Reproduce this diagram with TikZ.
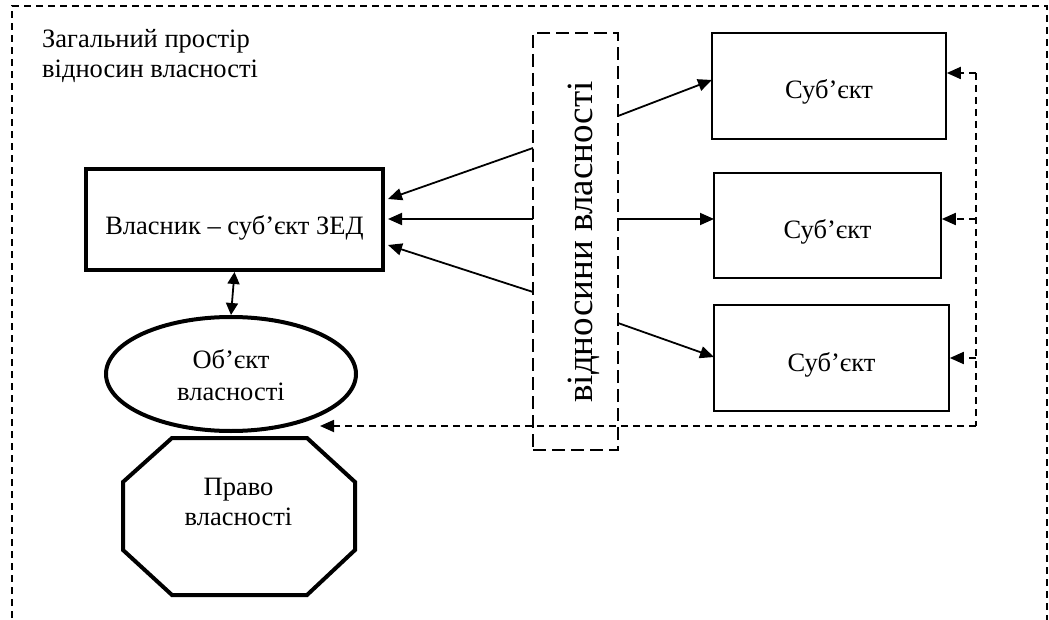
\documentclass[tikz,border=0pt]{standalone}
\usepackage{fontspec}
\setmainfont{Liberation Serif}
\usetikzlibrary{arrows.meta,shapes.geometric}
\tikzset{
  txt/.style={font=\fontsize{26.5}{30}\selectfont},
  thinbox/.style={draw,line width=1.6pt,rectangle,inner sep=0pt,txt},
  thickln/.style={line width=4pt},
  conn/.style={line width=1.8pt,-{Triangle[length=14pt,width=12pt]}},
  dconn/.style={line width=1.8pt,dash pattern=on 7pt off 5pt,-{Triangle[length=14pt,width=12pt]}},
}
\newcommand{\lowered}[2]{\raisebox{-#1pt}[0pt][0pt]{#2}}
\begin{document}
\begin{tikzpicture}[x=1pt,y=-1pt]
\useasboundingbox (0,0) rectangle (1049,620);
% outer frame
\draw[line width=1.6pt,dash pattern=on 7pt off 5pt] (12,630) -- (12,6) -- (1047,6) -- (1047,630);
\node[txt,anchor=base west,align=left,inner sep=0pt] (title) at (42,78) {Загальний простір\\відносин власності};
% relation label box
\node[draw,line width=1.6pt,dash pattern=on 13pt off 6pt,minimum width=85pt,minimum height=417pt,inner sep=0pt] (lab) at (575.5,241.5) {};
\node[rotate=90,anchor=base,font=\fontsize{37}{40}\selectfont,inner sep=0pt] (labtxt) at (592,242) {відносини власності};
% subjects
\node[thinbox,minimum width=234pt,minimum height=106pt] (s1) at (829,86) {\lowered{13}{Суб’єкт}};
\node[thinbox,minimum width=227pt,minimum height=105pt] (s2) at (827.5,225.5) {\lowered{13}{Суб’єкт}};
\node[thinbox,minimum width=235pt,minimum height=106pt] (s3) at (831.5,358) {\lowered{13}{Суб’єкт}};
% owner
\node[draw,thickln,rectangle,inner sep=0pt,txt,minimum width=297pt,minimum height=101pt] (own) at (234.5,219.5) {\lowered{15.5}{Власник – суб’єкт ЗЕД}};
% object
\node[draw,thickln,ellipse,inner sep=0pt,font=\fontsize{26.5}{32}\selectfont,minimum width=250pt,minimum height=114pt] (obj) at (231,374) {\lowered{26}{\begin{tabular}[b]{@{}c@{}}Об’єкт\\власності\end{tabular}}};
% octagon
\draw[thickln,line join=miter] (172,438) -- (307,438) -- (355,482) -- (355,550) -- (307,595) -- (172,595) -- (123,550) -- (123,482) -- cycle;
\node[txt,align=center,inner sep=0pt,anchor=base] (pravo) at (238.5,525) {Право\\власності};
% coordinates on label box
\coordinate (l1) at (533,148);
\coordinate (l2) at (533,219);
\coordinate (l3) at (533,292);
\coordinate (r1) at (618,116);
\coordinate (r2) at (618,219);
\coordinate (r3) at (618,323);
\coordinate (o1) at (388,199);
\coordinate (o2) at (388,219);
\coordinate (o3) at (388,245);
\coordinate (t1) at (712,80);
\coordinate (t2) at (714,219);
\coordinate (t3) at (714,357);
\draw[conn] (l1) -- (o1);
\draw[conn] (l2) -- (o2);
\draw[conn] (l3) -- (o3);
\draw[conn] (r1) -- (t1);
\draw[conn] (r2) -- (t2);
\draw[conn] (r3) -- (t3);
% owner <-> object
\draw[line width=1.8pt,{Triangle[length=12pt,width=12pt]}-{Triangle[length=12pt,width=12pt]}] (own.south) -- (obj.north);
% feedback dashed
\coordinate (f1) at (976,73);
\coordinate (f2) at (976,219);
\coordinate (f3) at (976,358);
\coordinate (fb) at (976,426);
\coordinate (oe) at (320,426);
\draw[line width=1.8pt,dash pattern=on 7pt off 5pt] (f1) -- (fb);
\draw[dconn] (fb) -- (oe);
\draw[dconn] (f1) -- (s1.east |- f1);
\draw[dconn] (f2) -- (s2.east |- f2);
\draw[dconn] (f3) -- (s3.east |- f3);
\end{tikzpicture}
\end{document}
